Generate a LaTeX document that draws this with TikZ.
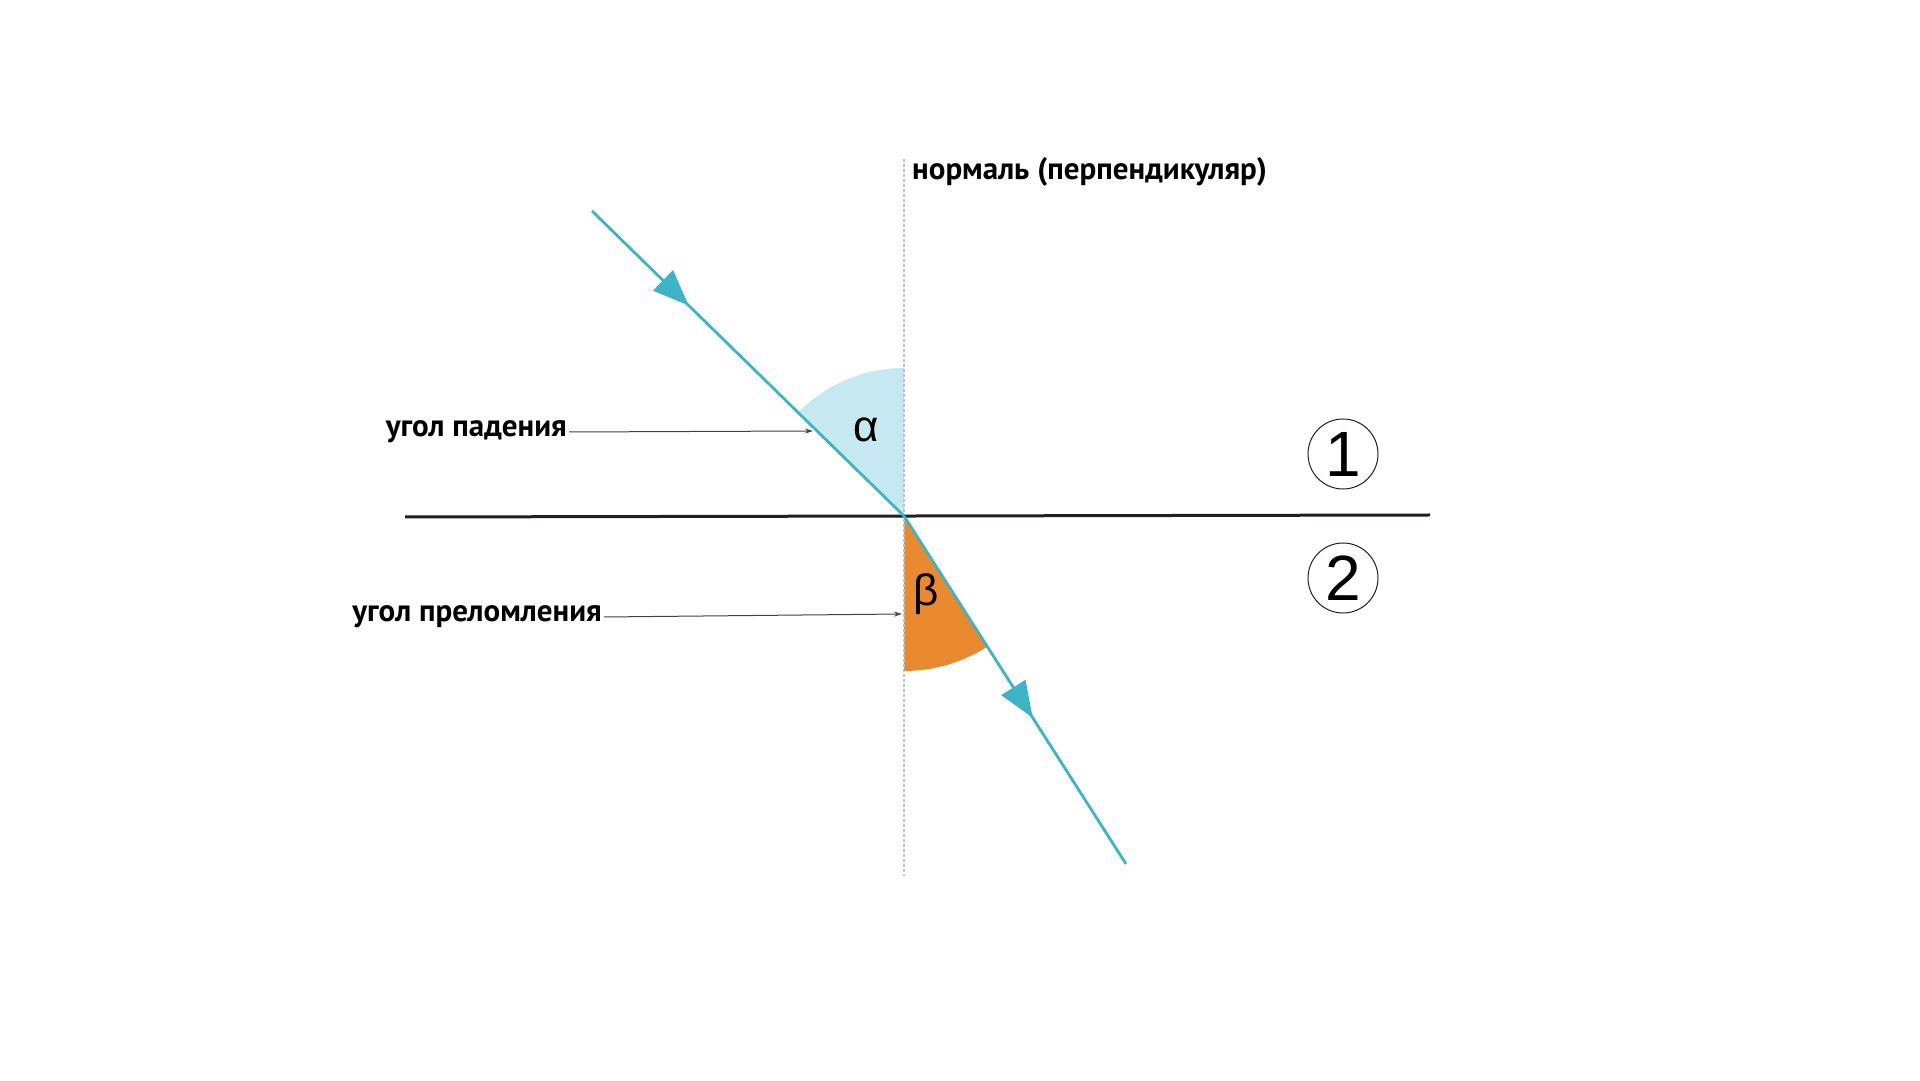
\documentclass[tikz,border=0pt]{standalone}
\usepackage{fontspec}
\setmainfont{PT Sans}
\newfontfamily\greekfont{Liberation Sans}
\usetikzlibrary{arrows.meta,decorations.markings}
\definecolor{raycol}{HTML}{3DB4C6}
\definecolor{alphacol}{HTML}{C6E9F1}
\definecolor{betacol}{HTML}{E98A2F}
\definecolor{linecol}{HTML}{231F20}
\begin{document}
\begin{tikzpicture}[x=1pt,y=1pt,
  ray/.style={draw=raycol, line width=2.8pt},
  raytip/.style={postaction={decorate, decoration={markings,
      mark=at position #1 with {\arrow{Triangle[length=36pt,width=28pt]}}}}},
  lbl/.style={font=\fontsize{31}{36}\selectfont\bfseries, inner sep=2pt},
  greek/.style={font=\greekfont\fontsize{44}{50}\selectfont, inner sep=0pt},
  medium/.style={circle, draw=linecol, line width=1pt, minimum size=70pt, inner sep=0pt,
      font=\greekfont\fontsize{64}{70}\selectfont},
  pointer/.style={draw=linecol!85, line width=1pt, -{Stealth[length=8pt,width=5pt]}}]

  \useasboundingbox (0,0) rectangle (1920,1080);

  \coordinate (O) at (904,564);
  \coordinate (S) at (592,869);
  \coordinate (E) at (1126,216);
  \coordinate (N) at (904,921);
  \coordinate (Nb) at (904,204);
  \coordinate (L) at (405,563);
  \coordinate (R) at (1430,565);

  \fill[alphacol] (O) -- ++(90:148) arc (90:135.6:148) -- cycle;
  \fill[betacol] (O) -- ++(270:155) arc (270:302.5:155) -- cycle;

  \draw[gray!50, line width=1.5pt, dash pattern=on 3pt off 2pt] (N) -- (Nb);
  \draw[linecol, line width=3pt] (L) -- (R);

  \path[ray, raytip=0.31] (S) -- (O);
  \path[ray, raytip=0.58] (O) -- (E);

  \node[greek] (alpha) at (866,650) {α};
  \node[greek] (beta) at (926,486) {β};

  \node[lbl, anchor=base west] (norm) at (910,900) {нормаль (перпендикуляр)};
  \node[lbl, anchor=east] (pad) at (569,648) {угол падения};
  \node[lbl, anchor=east] (prel) at (604,463) {угол преломления};

  \coordinate (padtip) at (813,649);
  \coordinate (preltip) at (902,466);
  \draw[pointer] (pad.east) -- (padtip);
  \draw[pointer] (prel.east) -- (preltip);

  \node[medium] (one) at (1343,626) {1};
  \node[medium] (two) at (1343,502) {2};

\end{tikzpicture}
\end{document}
